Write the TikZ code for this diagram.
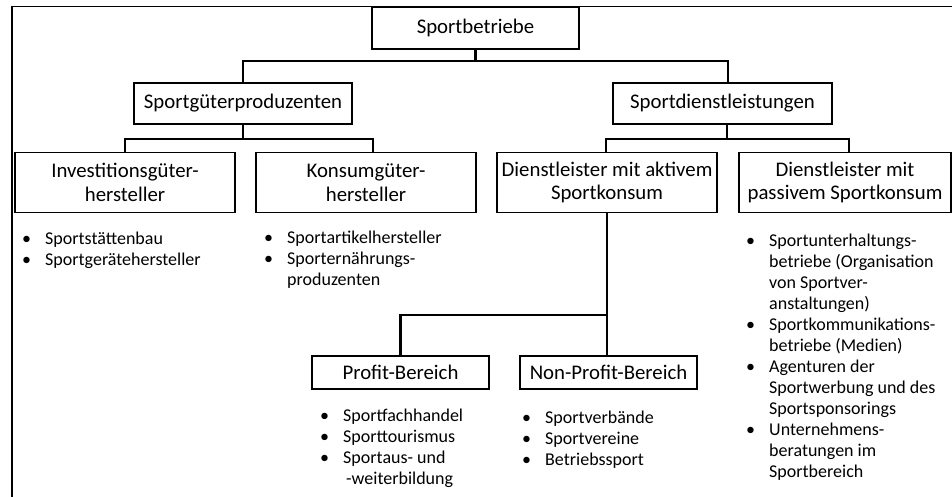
\documentclass[tikz,border=0pt]{standalone}
\usepackage{fontspec}
\setmainfont{Carlito}
\newcommand\itm{\makebox[23pt][l]{\textbullet}}
\newcommand\cont{\hspace*{23pt}}
\begin{document}
\begin{tikzpicture}[x=1pt,y=-1pt,
  box/.style={draw=black,line width=1.4pt,rectangle,inner sep=0pt,align=center,
    font=\fontsize{20.8}{23.5}\selectfont},
  link/.style={draw=black,line width=2.3pt,line cap=rect},
  itemlist/.style={inner sep=0pt,align=left,anchor=base west,
    font=\fontsize{18}{21}\selectfont}]
\useasboundingbox (0,0) rectangle (952,497);
\clip (0,0) rectangle (952,497);
% outer frame, running off the right and bottom edges
\draw[line width=1.8pt] (12,520) -- (12,6.5) -- (975,6.5);

% boxes
\node[box,minimum width=207pt,minimum height=42pt] (top) at (475.5,28) {Sportbetriebe};
\node[box,minimum width=218pt,minimum height=41pt] (sgp) at (243,103.5) {Sportgüterproduzenten};
\node[box,minimum width=219pt,minimum height=41pt] (sdl) at (722.5,103.5) {Sportdienstleistungen};
\node[box,minimum width=220pt,minimum height=60pt] (inv) at (125,182.5) {Investitionsgüter-\\hersteller};
\node[box,minimum width=220pt,minimum height=60pt] (kon) at (366,182.5) {Konsumgüter-\\hersteller};
\node[box,minimum width=220pt,minimum height=60pt] (akt) at (607,182.5) {Dienstleister mit aktivem\\Sportkonsum};
\node[box,minimum width=212pt,minimum height=60pt] (pas) at (845,182.5) {Dienstleister mit\\passivem Sportkonsum};
\node[box,minimum width=177pt,minimum height=33pt] (pro) at (400.5,372.5) {Profit-Bereich};
\node[box,minimum width=177pt,minimum height=33pt] (npr) at (608.5,372.5) {Non-Profit-Bereich};

% junctions of the tree
\coordinate (j1) at (475.5,61);
\coordinate (j2) at (243,139);
\coordinate (j3) at (727,139);
\coordinate (j4) at (607,315);

\draw[link] (top) -- (j1);
\draw[link] (sgp.north) |- (j1) -| ([xshift=5.5pt]sdl.north);
\draw[link] (sgp) -- (j2);
\draw[link] (inv.north) |- (j2) -| ([xshift=7pt]kon.north);
\draw[link] ([xshift=4.5pt]sdl.south) -- (j3);
\draw[link] ([xshift=-1pt]akt.north) |- (j3) -| ([xshift=4pt]pas.north);
\draw[link] (akt) -- (j4);
\draw[link] (pro.north) |- (j4) -- (npr.north -| j4);

% bullet lists (placed by the baseline of their last line)
\node[itemlist] (linv) at (22,265) {\itm Sportstättenbau\\\itm Sportgerätehersteller};
\node[itemlist] (lkon) at (264,285) {\itm Sportartikelhersteller\\\itm Sporternährungs-\\\cont produzenten};
\node[itemlist] (lpro) at (320,484) {\itm Sportfachhandel\\\itm Sporttourismus\\\itm Sportaus- und\\\cont\hspace*{3pt}-weiterbildung};
\node[itemlist] (lnpr) at (522,465) {\itm Sportverbände\\\itm Sportvereine\\\itm Betriebssport};
\node[itemlist] (lpas) at (746,477) {\itm Sportunterhaltungs-\\\cont betriebe (Organisation\\\cont von Sportver-\\\cont anstaltungen)\\\itm Sportkommunikations-\\\cont betriebe (Medien)\\\itm Agenturen der\\\cont Sportwerbung und des\\\cont Sportsponsorings\\\itm Unternehmens-\\\cont beratungen im\\\cont Sportbereich};
\end{tikzpicture}
\end{document}
